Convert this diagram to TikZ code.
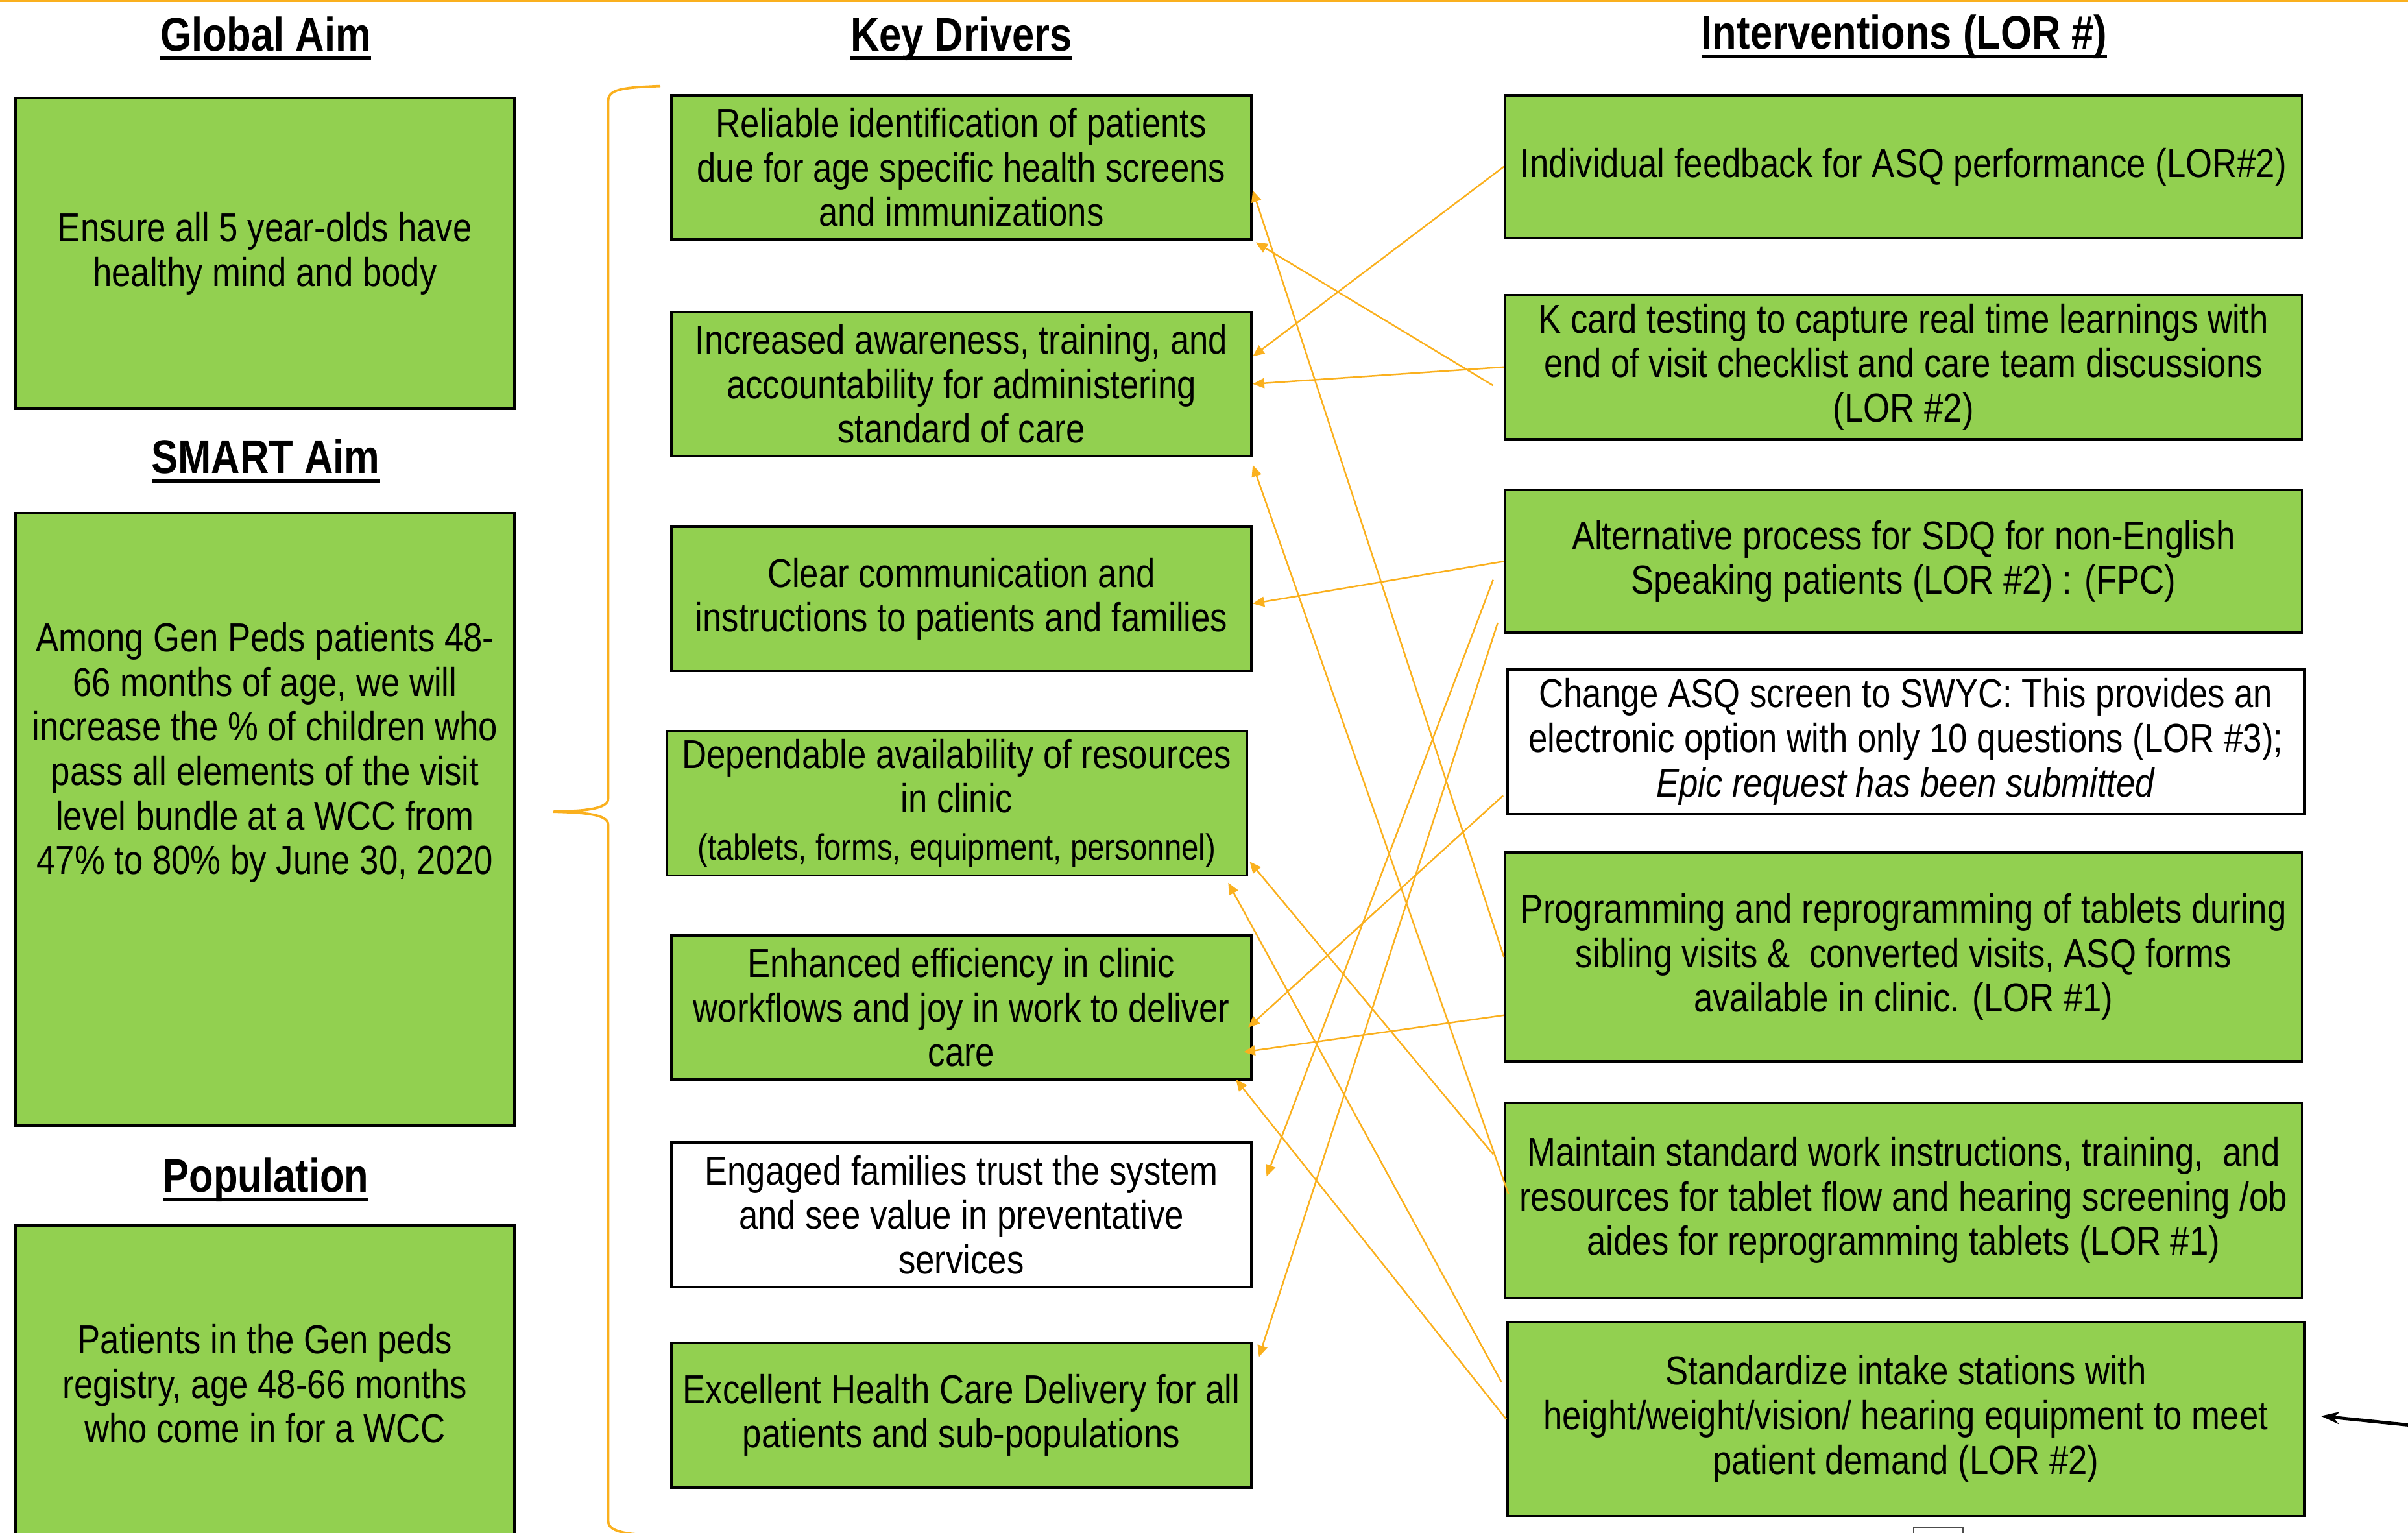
\documentclass[tikz,border=0pt]{standalone}
\usepackage{fontspec}
\setmainfont{Liberation Sans}[FakeStretch=0.845]
\usetikzlibrary{arrows.meta,calc}
\definecolor{kdgreen}{HTML}{92D050}
\definecolor{kdorange}{HTML}{FAB01E}
\newcommand{\txtsz}{\fontsize{15}{16.5}\selectfont}
\newcommand{\hdsz}{\fontsize{17.5}{20}\selectfont}
\newcommand{\hdr}[1]{{\hdsz\bfseries\setbox0\hbox{#1}\rlap{\vrule height -2.2pt depth 3.5pt width \wd0}\box0}}

\begin{document}
\begin{tikzpicture}[x=0.02cm, y=-0.02cm, font=\txtsz,
		box/.style={draw=black, line width=0.9pt, inner sep=0pt, align=center},
		gbox/.style={box, fill=kdgreen},
		wbox/.style={box, fill=white},
		aimbox/.style={gbox, minimum width=6.5cm},
		drv/.style={minimum width=7.56cm, minimum height=1.88cm},
		ivn/.style={minimum width=10.38cm},
		hd/.style={inner sep=1pt, anchor=base},
		con/.style={kdorange, line width=0.6pt, -{Triangle[length=1.5mm,width=1.3mm]}}]
	\useasboundingbox (0,0) rectangle (1568,998);
	% top rule
	\draw[kdorange, line width=1.2pt] (0,0) -- (1568,0);
	
	% headings
	\node[hd] (hglobal) at (173,33) {\hdr{Global Aim}};
	\node[hd] (hsmart) at (173,308) {\hdr{SMART Aim}};
	\node[hd] (hpop) at (173,776) {\hdr{Population}};
	\node[hd] (hdrivers) at (626,33) {\hdr{Key Drivers}};
	\node[hd] (hinterv) at (1240,32) {\hdr{Interventions (LOR \#)}};
	
	% aims
	\node[aimbox, minimum height=4.04cm] (aim) at (172.5,165) {Ensure all 5 year-olds have\\healthy mind and body};
	\node[aimbox, minimum height=7.98cm] (smart) at (172.5,533.5) {};
	\node[align=center, inner sep=0pt] (smarttxt) at (172.5,490) {Among Gen Peds patients 48-\\66 months of age, we will\\increase the \% of children who\\pass all elements of the visit\\level bundle at a WCC from\\47\% to 80\% by June 30, 2020};
	\node[aimbox, minimum height=4.12cm] (pop) at (172.5,901) {Patients in the Gen peds\\registry, age 48-66 months\\who come in for a WCC};
	
	% brace
	\draw[kdorange, line width=0.9pt] (430,56) .. controls (405,57) and (396,58) .. (396,66) -- (396,520)
		.. controls (396,527) and (380,528) .. (360,528.5) .. controls (380,529) and (396,530) .. (396,537)
		-- (396,990) .. controls (396,997) and (405,999) .. (430,1000);
	
	% key drivers
	\node[gbox, drv] (d1) at (626,109) {Reliable identification of patients\\due for age specific health screens\\and immunizations};
	\node[gbox, drv] (d2) at (626,250) {Increased awareness, training, and\\accountability for administering\\standard of care};
	\node[gbox, drv] (d3) at (626,390) {Clear communication and\\instructions to patients and families};
	\node[gbox, drv] (d4) at (623,523) {Dependable availability of resources\\in clinic\\[1pt]{\fontsize{13.5}{15}\selectfont (tablets, forms, equipment, personnel)}};
	\node[gbox, drv] (d5) at (626,656) {Enhanced efficiency in clinic\\workflows and joy in work to deliver\\care};
	\node[wbox, drv] (d6) at (626,791) {Engaged families trust the system\\and see value in preventative\\services};
	\node[gbox, drv] (d7) at (626,921.5) {Excellent Health Care Delivery for all\\patients and sub-populations};
	
	% interventions
	\node[gbox, ivn, minimum height=1.86cm] (i1) at (1239.5,108.5) {Individual feedback for ASQ performance (LOR\#2)};
	\node[gbox, ivn, minimum height=1.88cm] (i2) at (1239.5,239) {K card testing to capture real time learnings with\\end of visit checklist and care team discussions\\(LOR \#2)};
	\node[gbox, ivn, minimum height=1.86cm] (i3) at (1239.5,365.5) {Alternative process for SDQ for non-English\\Speaking patients (LOR \#2) : (FPC)};
	\node[wbox, ivn, minimum height=1.88cm] (i4) at (1241,483) {Change ASQ screen to SWYC: This provides an\\electronic option with only 10 questions (LOR \#3);\\\textit{Epic request has been submitted}};
	\node[gbox, ivn, minimum height=2.72cm] (i5) at (1239.5,623) {Programming and reprogramming of tablets during\\sibling visits \&\ \ converted visits, ASQ forms\\available in clinic. (LOR \#1)};
	\node[gbox, ivn, minimum height=2.54cm] (i6) at (1239.5,781.5) {Maintain standard work instructions, training,\ \ and\\resources for tablet flow and hearing screening /ob\\aides for reprogramming tablets (LOR \#1)};
	\node[gbox, ivn, minimum height=2.52cm] (i7) at (1241,924) {Standardize intake stations with\\height/weight/vision/ hearing equipment to meet\\patient demand (LOR \#2)};
	\node[draw=black!70, fill=white, line width=0.6pt, minimum width=0.64cm, minimum height=0.3cm, inner sep=0pt] (stub) at (1262,1002) {};
	
	% links
	\draw[con] (i5.west) -- ($(d1.east)+(0,15)$);
	\draw[con] ($(i2.west)+(-7,12)$) -- ($(d1.south east)+(2,1)$);
	\draw[con] (i1.west) -- ($(d2.east)+(0,-18)$);
	\draw[con] (i2.west) -- (d2.east);
	\draw[con] ($(i6.west)+(3,-4)$) -- ($(d2.south east)+(0,5)$);
	\draw[con] (i3.west) -- ($(d3.east)+(0,3)$);
	\draw[con] ($(i3.west)+(-7,12)$) -- ($(d6.east)+(9,-25)$);
	\draw[con] ($(i3.west)+(-4,40)$) -- ($(d7.east)+(4,-38)$);
	\draw[con] ($(i4.west)+(-2,35)$) -- ($(d5.east)+(-3,13)$);
	\draw[con] ($(i5.west)+(0,38)$) -- ($(d5.east)+(-6,29)$);
	\draw[con] (i7.west) -- ($(d5.south east)+(-11,-1)$);
	\draw[con] ($(i6.west)+(-7,-30)$) -- ($(d4.east)+(1,38)$);
	\draw[con] ($(i7.west)+(-3,-24)$) -- ($(d4.south east)+(-13,4)$);
	
	\coordinate (blkstart) at (1580,929);
	\draw[line width=1.2pt, -{Stealth[length=2.4mm,width=1.6mm]}] (blkstart) -- ($(i7.east)+(10,-2)$);
\end{tikzpicture}
\end{document}
